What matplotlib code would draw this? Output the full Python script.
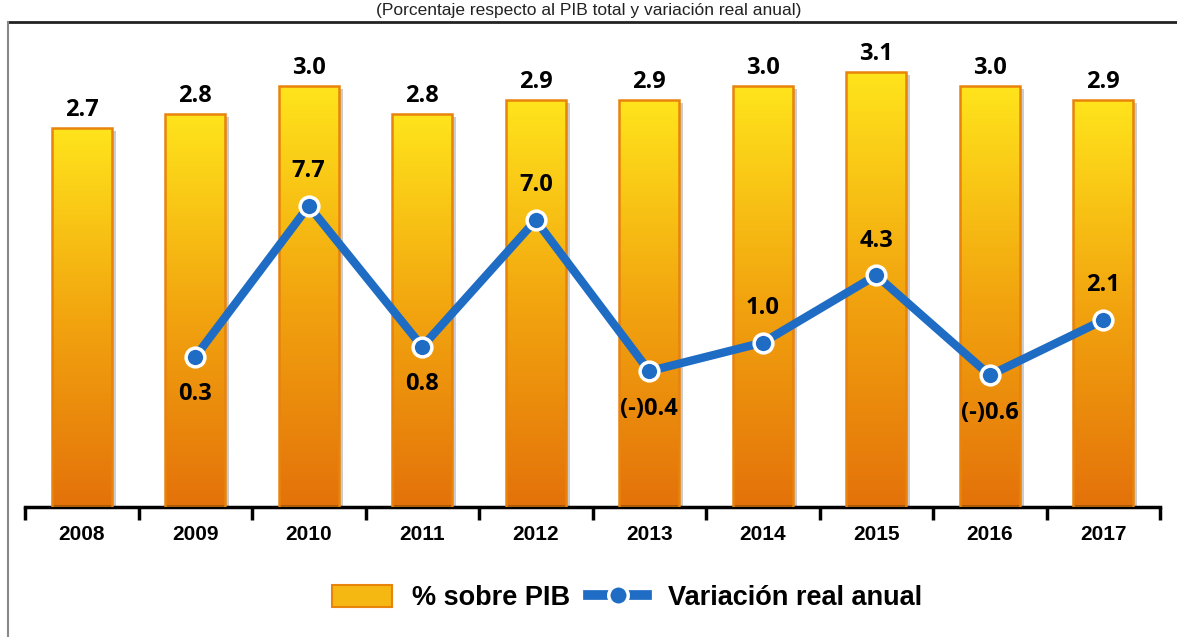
import numpy as np
import matplotlib
matplotlib.use("Agg")
import matplotlib.pyplot as plt
import matplotlib.patheffects as pe
from matplotlib.colors import LinearSegmentedColormap
from matplotlib.patches import Rectangle
from matplotlib.lines import Line2D

years      = ["2008", "2009", "2010", "2011", "2012", "2013", "2014", "2015", "2016", "2017"]
pct_pib    = [2.7, 2.8, 3.0, 2.8, 2.9, 2.9, 3.0, 3.1, 3.0, 2.9]
var_real   = [np.nan, 0.3, 7.7, 0.8, 7.0, -0.4, 1.0, 4.3, -0.6, 2.1]
title_text = "(Porcentaje respecto al PIB total y variación real anual)"

BLUE   = "#1F6CC4"
ORANGE = "#E8830C"
grad   = LinearSegmentedColormap.from_list("bar", ["#E4720A", "#F2A50F", "#FFE41C"])

W, H = 1177, 637
fig = plt.figure(figsize=(W / 100, H / 100), dpi=100)

# frame around the chart
fig.add_artist(Line2D([8 / W, 1], [1 - 22 / H, 1 - 22 / H], color="#222222", lw=2))
fig.add_artist(Line2D([8 / W, 8 / W], [0, 1 - 22 / H], color="#888888", lw=1.5))
fig.text(0.5, 1 - 15 / H, title_text, ha="center", va="baseline",
         fontsize=12.5, family="Liberation Sans", color="#222222")

ax = fig.add_axes([25 / W, (H - 507) / H, (1160 - 25) / W, (507 - 20) / H])
x = np.arange(len(years))
bw = 0.53

# shadow + gradient + outline
ax.bar(x, pct_pib, width=bw, color="white", zorder=1,
       path_effects=[pe.withSimplePatchShadow(offset=(3, -2), shadow_rgbFace="#9a9a9a", alpha=0.5)])
bars = ax.bar(x, pct_pib, width=bw, facecolor="none", edgecolor=ORANGE, lw=1.8, zorder=3)
g = np.linspace(0, 1, 256).reshape(-1, 1)
for b in bars:
    x0, y0, w, h = b.get_x(), b.get_y(), b.get_width(), b.get_height()
    im = ax.imshow(g, cmap=grad, extent=[x0, x0 + w, y0, y0 + h], origin="lower",
                   aspect="auto", zorder=2)
    im.set_clip_path(b)
ax.set_xlim(-0.5, len(years) - 0.5)
ax.set_ylim(0, 487 / 140.4)

for xi, v in zip(x, pct_pib):
    ax.annotate(f"{v:.1f}", (xi, v), xytext=(0, 4), textcoords="offset points",
                ha="center", va="bottom", fontsize=17, fontweight="bold", family="Open Sans")

for s in ["top", "right", "left"]:
    ax.spines[s].set_visible(False)
ax.spines["bottom"].set_linewidth(2.5)
ax.set_yticks([])
ax.set_xticks(x)
ax.set_xticklabels(years, fontsize=15, fontweight="bold", family="Liberation Sans")
ax.tick_params(axis="x", which="major", length=0, pad=13)
ax.set_xticks(np.arange(-0.5, len(years)), minor=True)
ax.tick_params(axis="x", which="minor", length=9, width=2.5, color="black")

ax2 = ax.twinx()
ax2.set_ylim((363 - 507) / 20.4, (363 - 20) / 20.4)
ax2.axis("off")
ax2.plot(x, var_real, color=BLUE, lw=6, marker="o", ms=13.5, mfc=BLUE, mec="white", mew=2.5,
         solid_joinstyle="miter", zorder=4)
for xi, v in zip(x, var_real):
    if np.isnan(v):
        continue
    below = v < 1.0
    lab = f"(-){abs(v):.1f}" if v < 0 else f"{v:.1f}"
    ax2.annotate(lab, (xi, v), xytext=(0, -27 if below else 25), textcoords="offset points",
                 ha="center", va="center", fontsize=17, fontweight="bold", family="Open Sans")

h1 = Rectangle((0, 0), 1, 1, facecolor="#F5B812", edgecolor=ORANGE, lw=1.5)
h2 = Line2D([], [], color=BLUE, lw=7, marker="o", ms=14, mfc=BLUE, mec="white", mew=2.5)
fig.legend([h1, h2], ["% sobre PIB", "Variación real anual"], loc="center",
           bbox_to_anchor=(627 / W, 1 - 598 / H), ncol=2, frameon=False,
           prop={"family": "Liberation Sans", "weight": "bold", "size": 19.5},
           handlelength=2.2, handleheight=0.85, columnspacing=0.65, handletextpad=0.75)

fig.savefig("out.png", dpi=100)
